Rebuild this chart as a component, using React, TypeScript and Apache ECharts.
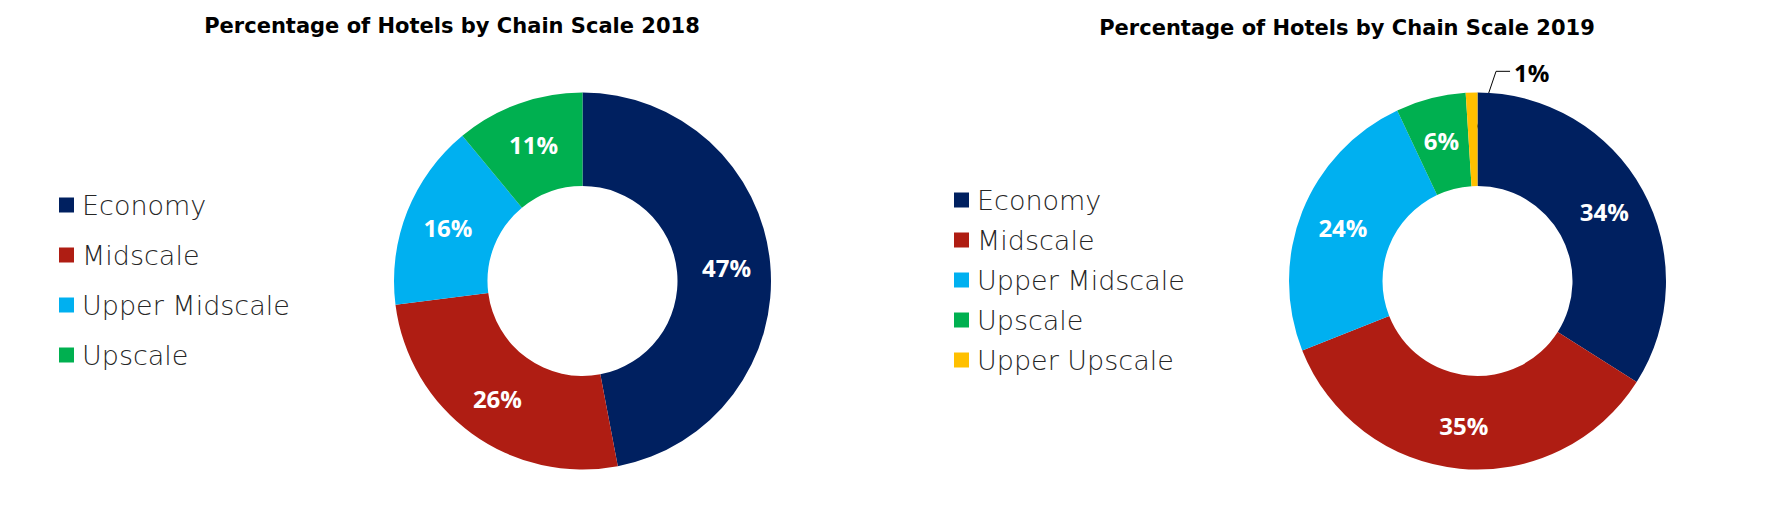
import React, { useEffect, useRef } from "react";
import * as echarts from "echarts";

const categories2018 = ["Economy", "Midscale", "Upper Midscale", "Upscale"];
const values2018 = [47, 26, 16, 11];
const categories2019 = ["Economy", "Midscale", "Upper Midscale", "Upscale", "Upper Upscale"];
const values2019 = [34, 35, 24, 6, 1];
const colorMap: Record<string, string> = {
  Economy: "#002060",
  Midscale: "#AF1D13",
  "Upper Midscale": "#00B0F0",
  Upscale: "#00B050",
  "Upper Upscale": "#FFC000",
};
const titles = ["Percentage of Hotels by Chain Scale 2018", "Percentage of Hotels by Chain Scale 2019"];

const CENTER_L = [582.5, 281];
const CENTER_R = [1477.5, 281];
const R_IN = 95;
const R_OUT = 188.5;

export default function App() {
  const ref = useRef<HTMLDivElement>(null);
  useEffect(() => {
    document.body.style.margin = "0";
    const chart = echarts.init(ref.current!, null, { renderer: "svg" });
    const labelStyle = {
      show: true,
      position: "inside",
      formatter: "{c}%",
      color: "#fff",
      fontSize: 24,
      fontWeight: "bold",
      fontFamily: "Open Sans",
    };
    const legendText = {
      fontSize: 27,
      fontFamily: "DejaVu Sans",
      fontWeight: 200,
      color: "#262626",
      lineHeight: 30,
      padding: [0, 0, 0, 3],
    };
    const titleText = { fontFamily: "DejaVu Sans", fontWeight: "bold", fontSize: 21, color: "#000" };
    chart.setOption({
      animation: false,
      title: [
        { text: titles[0], left: 447, top: 10, textAlign: "center", textStyle: titleText },
        { text: titles[1], left: 1342, top: 12, textAlign: "center", textStyle: titleText },
      ],
      legend: [
        {
          orient: "vertical",
          left: 59,
          top: 190,
          padding: 0,
          itemWidth: 15,
          itemHeight: 15,
          itemGap: 20,
          icon: "rect",
          data: categories2018,
          textStyle: legendText,
          selectedMode: false,
        },
        {
          orient: "vertical",
          left: 954,
          top: 185,
          padding: 0,
          itemWidth: 15,
          itemHeight: 15,
          itemGap: 10,
          icon: "rect",
          data: categories2019,
          textStyle: legendText,
          selectedMode: false,
        },
      ],
      series: [
        {
          type: "pie",
          center: CENTER_L,
          radius: [R_IN, R_OUT],
          startAngle: 90,
          clockwise: true,
          label: labelStyle,
          labelLine: { show: false },
          data: categories2018.map((n, i) => ({ name: n, value: values2018[i], itemStyle: { color: colorMap[n] } })),
        },
        {
          type: "pie",
          center: CENTER_R,
          radius: [R_IN, R_OUT],
          startAngle: 90,
          clockwise: true,
          label: labelStyle,
          labelLine: { show: false },
          labelLayout: (p: any) => {
            if (p.dataIndex !== 4) return {};
            const ang = ((90 + 1.8) * Math.PI) / 180;
            const rm = (R_IN + R_OUT) / 2;
            const s = [CENTER_R[0] + Math.cos(ang) * rm, CENTER_R[1] - Math.sin(ang) * rm];
            const bend = [s[0] + 23, s[1] - 68];
            const end = [bend[0] + 14, bend[1]];
            return {
              x: end[0] + 4,
              y: end[1] + 1,
              align: "left",
              verticalAlign: "middle",
              labelLinePoints: [s, bend, end],
            };
          },
          data: categories2019.map((n, i) => {
            const d: any = { name: n, value: values2019[i], itemStyle: { color: colorMap[n] } };
            if (i === 4) {
              d.label = { position: "outside", color: "#000", fontSize: 24 };
              d.labelLine = { show: true, length: 10, length2: 10, lineStyle: { color: "#000", width: 1 } };
            }
            return d;
          }),
        },
      ],
    });
    return () => chart.dispose();
  }, []);
  return <div ref={ref} style={{ width: 1790, height: 523 }} />;
}
